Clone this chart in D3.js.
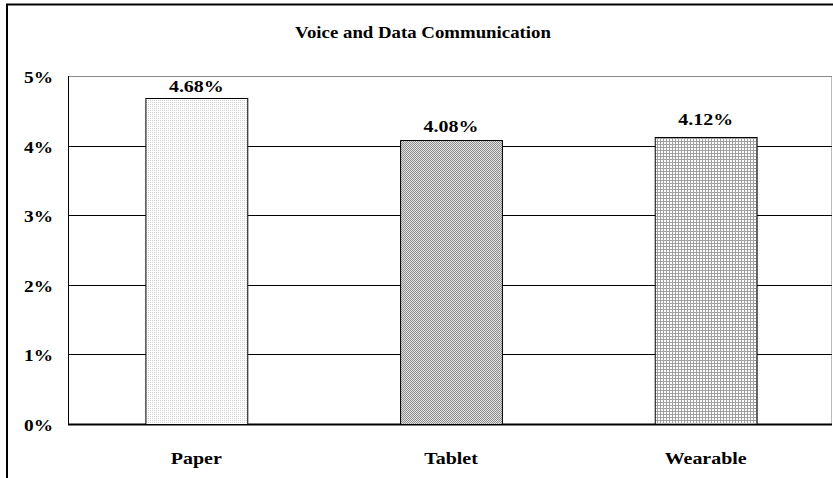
<!DOCTYPE html>
<html><head><meta charset="utf-8">
<script src="https://cdn.jsdelivr.net/npm/d3@7"></script>
<style>body{margin:0;background:#fff}svg{display:block}text{font-family:"Liberation Serif","Times New Roman",serif;font-weight:bold}</style>
</head><body><svg id="c" width="833" height="478"></svg>
<script>
const categories = ["Paper", "Tablet", "Wearable"];
const values = [4.68, 4.08, 4.12];
const valueLabels = ["4.68%", "4.08%", "4.12%"];
const yTicks = [0, 1, 2, 3, 4, 5];
const title = "Voice and Data Communication";

const svg = d3.select("#c");
const W = 833, H = 478;
const m = {left: 68, right: 832, top: 76, bottom: 424};
const SX = 1.14;

function stretchedText(g, x, y, size, str, anchor) {
  return g.append("text")
    .attr("transform", `translate(${x},${y}) scale(${SX},1)`)
    .attr("text-anchor", anchor || "middle").attr("font-size", size).text(str);
}

// patterns
const defs = svg.append("defs");
const p1 = defs.append("pattern").attr("id","pDots").attr("width",2).attr("height",2).attr("patternUnits","userSpaceOnUse");
p1.append("rect").attr("width",2).attr("height",2).attr("fill","#fff");
p1.append("rect").attr("x",0).attr("y",0).attr("width",1).attr("height",1).attr("fill","#d0d0d0");
const p2 = defs.append("pattern").attr("id","pCheck").attr("width",2).attr("height",2).attr("patternUnits","userSpaceOnUse");
p2.append("rect").attr("width",2).attr("height",2).attr("fill","#e4e4e4");
p2.append("rect").attr("x",0).attr("y",0).attr("width",1).attr("height",1).attr("fill","#8c8c8c");
p2.append("rect").attr("x",1).attr("y",1).attr("width",1).attr("height",1).attr("fill","#8c8c8c");
const p3 = defs.append("pattern").attr("id","pGrid").attr("width",3).attr("height",3).attr("patternUnits","userSpaceOnUse");
p3.append("rect").attr("width",3).attr("height",3).attr("fill","#fff");
p3.append("rect").attr("x",0).attr("y",0).attr("width",3).attr("height",1).attr("fill","#a0a0a0");
p3.append("rect").attr("x",0).attr("y",0).attr("width",1).attr("height",3).attr("fill","#a0a0a0");
const fills = ["url(#pDots)", "url(#pCheck)", "url(#pGrid)"];

// outer border
svg.append("rect").attr("x",7).attr("y",4.5).attr("width",W+10).attr("height",H+10)
  .attr("fill","none").attr("stroke","#000").attr("stroke-width",2);

stretchedText(svg, 423, 38, 16.5, title);

const x = d3.scaleBand().domain(categories).range([m.left, m.right]).paddingInner(0.6).paddingOuter(0.3);
const y = d3.scaleLinear().domain([0,5]).range([m.bottom, m.top]);

// plot area border right side
svg.append("line").attr("x1",m.right-0.5).attr("x2",m.right-0.5).attr("y1",m.top).attr("y2",m.bottom)
  .attr("stroke","#bbb").attr("stroke-width",1);

// gridlines
svg.append("g").selectAll("line").data(yTicks).join("line")
  .attr("x1",m.left).attr("x2",m.right).attr("y1",d=>Math.round(y(d))+0.5).attr("y2",d=>Math.round(y(d))+0.5)
  .attr("stroke",d=>d===5?"#888":"#000").attr("stroke-width",d=>d===0?2:1);

// y axis line
svg.append("line").attr("x1",m.left+0.5).attr("x2",m.left+0.5).attr("y1",y(5)).attr("y2",y(0)+1)
  .attr("stroke","#000").attr("stroke-width",1);

// y tick labels
const gy = svg.append("g");
yTicks.forEach(d => stretchedText(gy, 53, y(d)+7, 17, d+"%", "end"));

// bars
svg.append("g").selectAll("rect").data(values).join("rect")
  .attr("x",(d,i)=>x(categories[i])+1.5).attr("y",d=>Math.round(y(d))+0.5)
  .attr("width",x.bandwidth()).attr("height",d=>y(0)-Math.round(y(d)))
  .attr("fill",(d,i)=>fills[i]).attr("stroke","#000").attr("stroke-width",1);

// value labels
const labelOffsets = [6, 8, 12];
const gv = svg.append("g");
values.forEach((d,i) => stretchedText(gv, x(categories[i])+x.bandwidth()/2+1, y(d)-labelOffsets[i], 17.5, valueLabels[i]));

// category labels
const gc = svg.append("g");
categories.forEach(c => stretchedText(gc, x(c)+x.bandwidth()/2+1, 464, 17.5, c));
</script></body></html>
